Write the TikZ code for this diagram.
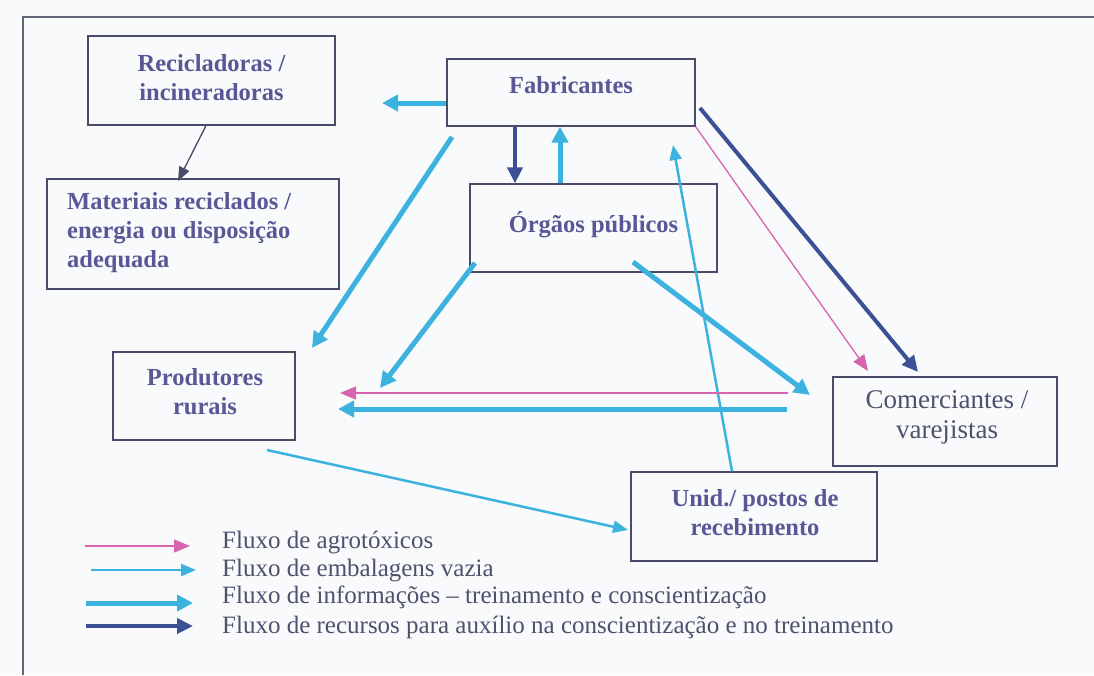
\documentclass[tikz,border=0pt]{standalone}
\usepackage{fontspec}
\setmainfont{Liberation Serif}
\usetikzlibrary{arrows.meta,calc}
\definecolor{bgc}{RGB}{248,250,251}
\definecolor{framec}{RGB}{100,100,120}
\definecolor{boxc}{RGB}{75,75,105}
\definecolor{txtc}{RGB}{88,88,150}
\definecolor{legc}{RGB}{80,80,110}
\definecolor{cyanA}{RGB}{60,178,222}
\definecolor{darkB}{RGB}{60,80,150}
\definecolor{pinkA}{RGB}{215,100,175}
\begin{document}
\begin{tikzpicture}[x=1pt,y=-1pt,
  box/.style={draw=boxc, line width=1.3pt, inner sep=0pt},
  btxt/.style={text=txtc, font=\fontsize{24.5}{29}\selectfont\bfseries, align=center, inner sep=0pt},
  ctxt/.style={text=legc, font=\fontsize{27}{30}\selectfont, align=center, inner sep=0pt},
  ltxt/.style={text=legc, font=\fontsize{25}{26}\selectfont, anchor=west, inner sep=0pt},
  info/.style={cyanA, line width=5pt, -{Triangle[length=16pt,width=16pt]}},
  emb/.style={cyanA, line width=2.5pt, -{Triangle[length=15pt,width=12pt]}},
  agro/.style={pinkA, line width=1.3pt, -{Triangle[length=16pt,width=13pt]}},
  recu/.style={darkB, line width=4pt, -{Triangle[length=16pt,width=15pt]}},
  thin/.style={boxc, line width=1.3pt, -{Triangle[length=14pt,width=11pt]}, fill=txtc}
]
\useasboundingbox (0,0) rectangle (1094,675);
\fill[bgc] (0,0) rectangle (1094,675);
\draw[framec, line width=1.5pt] (1094,17) -- (23,17) -- (23,675);

% boxes
\node[box, minimum width=247pt, minimum height=89pt] (reci) at (211.5,80.5) {};
\node[btxt] (recit) at (211.5,77.5) {Recicladoras /\\incineradoras};
\node[box, minimum width=292pt, minimum height=110pt] (mat) at (193,234) {};
\node[btxt, align=left, anchor=west] (matt) at (67,233) {Materiais reciclados /\\energia ou disposição\\adequada};
\node[box, minimum width=248pt, minimum height=67pt] (fab) at (571,92.5) {};
\node[btxt] (fabt) at (571,85) {Fabricantes};
\node[box, minimum width=247pt, minimum height=88pt] (org) at (593.5,228) {};
\node[btxt] (orgt) at (593.5,225) {Órgãos públicos};
\node[box, minimum width=182pt, minimum height=88pt] (prod) at (204,396) {};
\node[btxt] (prodt) at (205,392) {Produtores\\rurais};
\node[box, minimum width=224pt, minimum height=89pt] (com) at (945,421.5) {};
\node[ctxt] (comt) at (947,417) {Comerciantes /\\varejistas};
\node[box, minimum width=246pt, minimum height=89pt] (unid) at (754,516.5) {};
\node[btxt] (unidt) at (755,512.5) {Unid./ postos de\\recebimento};

% free ends
\coordinate (e1) at (382,103);
\coordinate (e2) at (178,181);
\coordinate (s3) at (452,137);
\coordinate (e3) at (312,348);
\coordinate (s6) at (700,108);
\coordinate (e6) at (918,372);
\coordinate (e7) at (868,371);
\coordinate (e8) at (673,145);
\coordinate (s9) at (475,263);
\coordinate (e9) at (380,388);
\coordinate (s10) at (633,262);
\coordinate (e10) at (810,395);
\coordinate (s11) at (788,393);
\coordinate (e11) at (340,393);
\coordinate (s12) at (787,409);
\coordinate (e12) at (338,409);
\coordinate (s13) at (267,450);
\coordinate (e13) at (628,530);

% connectors
\draw[info] ([yshift=-10.5pt]fab.west) -- (e1);
\draw[thin] ([xshift=-5.5pt]reci.south) -- (e2);
\draw[info] (s3) -- (e3);
\draw[recu] ([xshift=-56pt]fab.south) -- ([xshift=-78.5pt]org.north);
\draw[info] ([xshift=-33.5pt]org.north) -- ([xshift=-11pt]fab.south);
\draw[recu] (s6) -- (e6);
\draw[agro] (fab.south east) -- (e7);
\draw[emb] ([xshift=-22pt]unid.north) -- (e8);
\draw[info] (s9) -- (e9);
\draw[info] (s10) -- (e10);
\draw[agro] (s11) -- (e11);
\draw[info] (s12) -- (e12);
\draw[emb] (s13) -- (e13);

% legend
\coordinate (l1a) at (85,546); \coordinate (l1b) at (190,546);
\coordinate (l2a) at (91,570); \coordinate (l2b) at (196,570);
\coordinate (l3a) at (86,603); \coordinate (l3b) at (193,603);
\coordinate (l4a) at (86,626); \coordinate (l4b) at (193,626);
\draw[agro] (l1a) -- (l1b);
\draw[emb] (l2a) -- (l2b);
\draw[info] (l3a) -- (l3b);
\draw[recu] (l4a) -- (l4b);
\node[ltxt] (lt1) at (222,542) {Fluxo de agrotóxicos};
\node[ltxt] (lt2) at (222,571) {Fluxo de embalagens vazia};
\node[ltxt] (lt3) at (222,597) {Fluxo de informações – treinamento e conscientização};
\node[ltxt] (lt4) at (222,627) {Fluxo de recursos para auxílio na conscientização e no treinamento};
\end{tikzpicture}
\end{document}
